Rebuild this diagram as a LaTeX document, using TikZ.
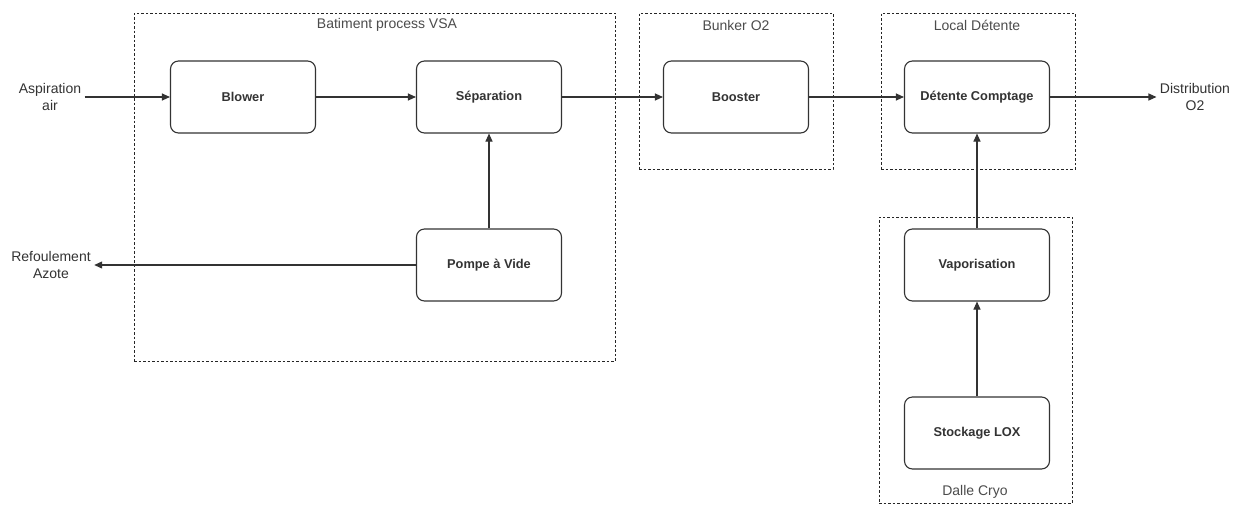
\documentclass[tikz,border=0pt]{standalone}
\usepackage{fontspec}
\setmainfont{Liberation Sans}
\usetikzlibrary{arrows.meta}

\tikzset{
    etape/.style={rectangle, rounded corners=8pt, draw=black!80, line width=1.1pt,
        minimum width=145pt, minimum height=72pt, font=\fontsize{12.8}{15}\selectfont\bfseries,
        text=black!80},
    zone/.style={rectangle, draw=black!85, line width=1pt, dash pattern=on 2.5pt off 2pt},
    zonelabel/.style={font=\fontsize{14}{17}\selectfont, text=black!70},
    extremite/.style={align=center, font=\fontsize{14}{17}\selectfont, text=black!80},
    flux/.style={-{Triangle[length=8pt, width=7pt]}, draw=black!80, line width=1.1pt}
}

\begin{document}
\begin{tikzpicture}[x=1pt, y=1pt]
        \useasboundingbox[fill=white] (0,0) rectangle (1235,-504);

        % Draw the four dashed zones
        \node[zone, minimum width=481pt, minimum height=348pt] (vsa) at (374.5,-187) {};
        \node[zone, minimum width=194pt, minimum height=156pt] (bunker) at (736,-91) {};
        \node[zone, minimum width=194pt, minimum height=156pt] (local) at (978,-91) {};
        \node[zone, minimum width=193pt, minimum height=286pt] (dalle) at (975.5,-360) {};
        % Label the zones
        \node[zonelabel] (vsalabel) at (387,-25) {Batiment process VSA};
        \node[zonelabel] (bunkerlabel) at (736,-25) {Bunker O2};
        \node[zonelabel] (locallabel) at (977,-25) {Local Détente};
        \node[zonelabel] (dallelabel) at (975,-492) {Dalle Cryo};

        % Draw the process steps
        \node[etape] (blower) at (243,-97) {Blower};
        \node[etape] (separation) at (489,-97) {Séparation};
        \node[etape] (pompe) at (489,-265) {Pompe à Vide};
        \node[etape] (booster) at (736,-97) {Booster};
        \node[etape] (detente) at (977,-97) {Détente Comptage};
        \node[etape] (vapo) at (977,-265) {Vaporisation};
        \node[etape] (stockage) at (977,-433) {Stockage LOX};

        % Inputs and outputs
        \node[extremite] (aspiration) at (50,-97) {Aspiration\\air};
        \node[extremite] (refoulement) at (51,-265) {Refoulement\\Azote};
        \node[extremite] (distribution) at (1195,-97) {Distribution\\O2};

        % Draw arrows between steps
        \draw[flux] (aspiration) -- (blower);
        \draw[flux] (blower) -- (separation);
        \draw[flux] (separation) -- (booster);
        \draw[flux] (booster) -- (detente);
        \draw[flux] (detente) -- (distribution);
        \draw[flux] (pompe) -- (separation);
        \draw[flux] (pompe) -- (refoulement);
        \draw[flux] (stockage) -- (vapo);
        \draw[flux] (vapo) -- (detente);

    \end{tikzpicture}
\end{document}
